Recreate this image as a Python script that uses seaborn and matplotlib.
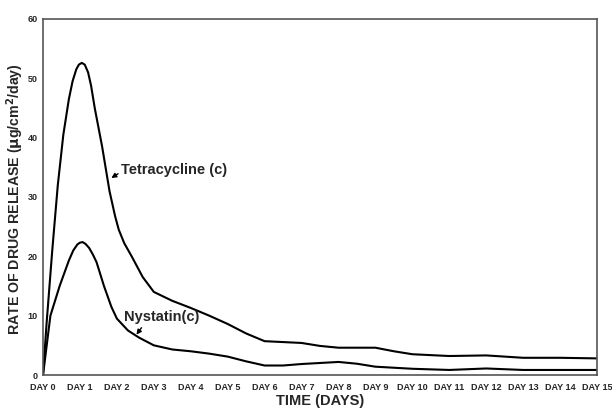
import matplotlib
matplotlib.use("Agg")
import matplotlib.pyplot as plt
import seaborn as sns
import pandas as pd

# Data
tet_days = [0, 0.1, 0.25, 0.4, 0.55, 0.7, 0.8, 0.9, 0.97, 1.05, 1.13, 1.22, 1.3, 1.4, 1.6, 1.8, 1.95, 2.05, 2.2, 2.4, 2.7, 3, 3.5, 4, 4.5, 5, 5.5, 6, 7, 7.5, 8, 9, 9.5, 10, 11, 12, 13, 14, 15]
tet_vals = [0, 9, 21, 32, 40.5, 46.5, 49.5, 51.5, 52.3, 52.6, 52.3, 51, 48.8, 45, 38.5, 31, 26.8, 24.5, 22.2, 20, 16.5, 14, 12.5, 11.3, 10, 8.6, 7, 5.7, 5.4, 4.9, 4.6, 4.6, 4.0, 3.5, 3.2, 3.3, 2.9, 2.9, 2.8]

nys_days = [0, 0.2, 0.45, 0.7, 0.82, 0.93, 1.0, 1.07, 1.15, 1.25, 1.35, 1.45, 1.65, 1.85, 2, 2.3, 2.6, 3, 3.5, 4, 4.5, 5, 5.5, 6, 6.5, 7, 8, 8.5, 9, 10, 11, 12, 13, 14, 15]
nys_vals = [0, 10, 15, 19.3, 21, 22, 22.3, 22.4, 22.1, 21.4, 20.3, 19, 15, 11.5, 9.5, 7.5, 6.3, 5, 4.3, 4, 3.6, 3.1, 2.3, 1.6, 1.6, 1.85, 2.2, 1.9, 1.4, 1.05, 0.85, 1.1, 0.85, 0.85, 0.85]

x_ticks = list(range(16))
x_labels = [f"DAY {d}" for d in x_ticks]
y_ticks = [0, 10, 20, 30, 40, 50, 60]

df = pd.concat([
    pd.DataFrame({"day": tet_days, "rate": tet_vals, "drug": "Tetracycline (c)"}),
    pd.DataFrame({"day": nys_days, "rate": nys_vals, "drug": "Nystatin(c)"}),
])

sns.set_style("white")
plt.rcParams['font.family'] = ['Liberation Sans', 'DejaVu Sans']

fig = plt.figure(figsize=(6.12, 4.12), dpi=100)
ax = fig.add_axes([0.0703, 0.0898, 0.9052, 0.8642])

sns.lineplot(data=df, x="day", y="rate", units="drug", estimator=None,
             color="black", linewidth=1.5, sort=False, legend=False, ax=ax)
for ln in ax.lines:
    ln.set_solid_joinstyle("round")

ax.set_xlim(0, 15)
ax.set_ylim(0, 60)
ax.set_xticks(x_ticks)
ax.set_xticklabels(x_labels, fontsize=6.5, fontweight="bold")
ax.set_yticks(y_ticks)
ax.set_yticklabels([str(v) for v in y_ticks], fontsize=6.5, fontweight="bold")
ax.tick_params(axis="x", direction="inout", length=5, width=1, color="#444444", pad=3)
ax.tick_params(axis="y", direction="inout", length=5, width=1, color="#444444", pad=1.5)

for s in ax.spines.values():
    s.set_visible(True)
    s.set_color("#555555")
    s.set_linewidth(1.2)

ax.set_xlabel("TIME (DAYS)", fontsize=10.5, fontweight="bold", labelpad=2)
ax.set_ylabel(r"RATE OF DRUG RELEASE ($\mathbf{\mu}$g/cm$^\mathbf{2}$/day)", fontsize=10.2, fontweight="bold")
ax.yaxis.set_label_coords(-0.031, 0.493)

ax.annotate("Tetracycline (c)", xy=(1.85, 33.2), xytext=(2.12, 34.5),
            fontsize=10.5, fontweight="bold", va="center", ha="left",
            arrowprops=dict(arrowstyle="-|>", color="black", lw=1, mutation_scale=7,
                            shrinkA=0, shrinkB=0, relpos=(0, 0.4)))
ax.annotate("Nystatin(c)", xy=(2.53, 6.8), xytext=(2.18, 9.7),
            fontsize=10.5, fontweight="bold", va="center", ha="left",
            arrowprops=dict(arrowstyle="-|>", color="black", lw=1, mutation_scale=7,
                            shrinkA=0, shrinkB=0, relpos=(0.27, 0)))

fig.savefig("out.png", dpi=100)
